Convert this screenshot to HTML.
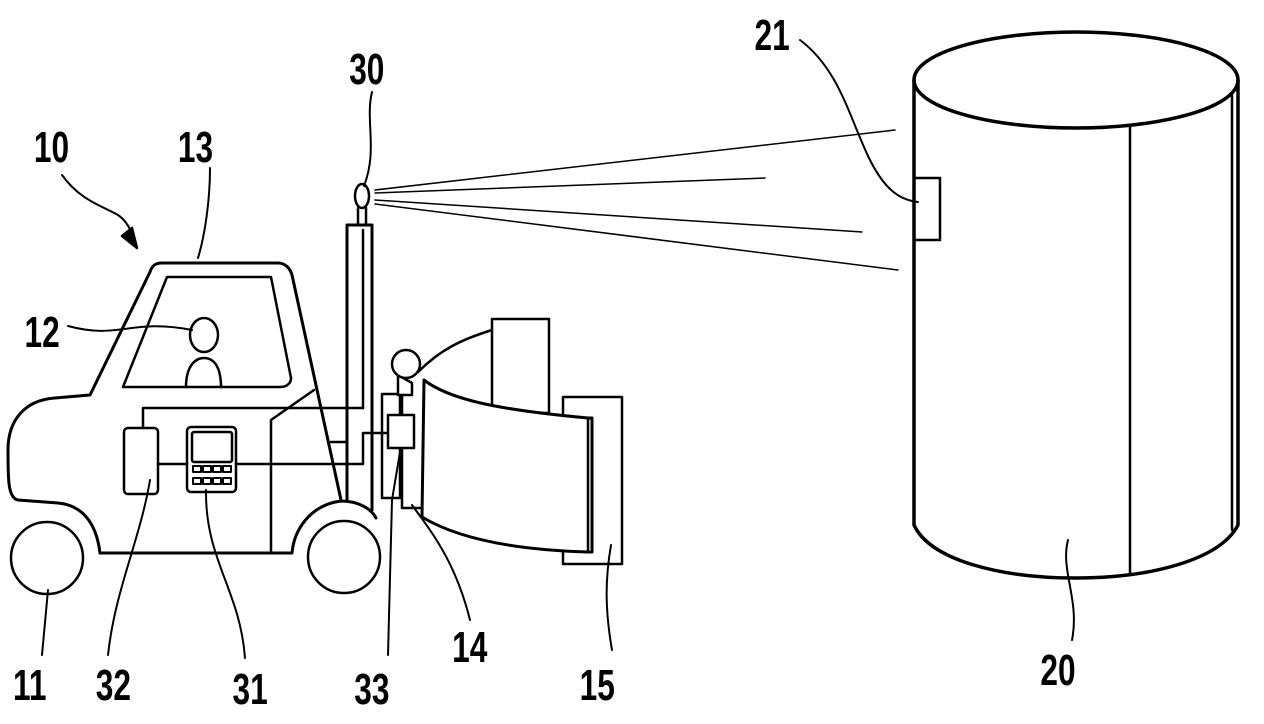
<!DOCTYPE html>
<html><head><style>
html,body{margin:0;padding:0;background:#fff;}
svg{display:block;}
text{font-family:"Liberation Sans",sans-serif;font-size:44px;font-weight:bold;fill:#000;}
</style></head><body>
<svg width="1264" height="724" viewBox="0 0 1264 724" xmlns="http://www.w3.org/2000/svg">
<g fill="none" stroke="#000" stroke-width="2.5" stroke-linejoin="round" stroke-linecap="round">
<path d="M62 175 C80 200 100 205 118 215 C128 222 132 232 135 244" stroke-width="2"/>
<path d="M122 236 L137 248 L132 228 Z" fill="#000"/>
<path d="M210 168 C210 200 205 235 198 258" stroke-width="2"/>
<path d="M68 326 C120 340 130 318 192 330" stroke-width="2"/>
<path d="M372 92 C365 120 378 150 364 186" stroke-width="2"/>
<path d="M800 40 C840 70 850 120 870 160 C885 190 900 200 918 202" stroke-width="2"/>
<path d="M42 655 L48 590" stroke-width="2"/>
<path d="M108 655 C115 590 140 540 150 480" stroke-width="2"/>
<path d="M245 658 C240 590 205 560 206 490" stroke-width="2"/>
<path d="M388 655 L392 500 L402 440" stroke-width="2"/>
<path d="M470 620 C455 560 430 530 412 505" stroke-width="2"/>
<path d="M612 650 C605 610 605 580 611 545" stroke-width="2"/>
<path d="M1072 640 C1080 600 1060 570 1068 540" stroke-width="2"/>
<path d="M100 553 C96 520 80 505 58 503 L18 500 C8 498 8 480 8 450 C8 420 25 400 55 398 L90 395 L150 272 C152 266 155 263 162 263 L278 263 C285 263 290 268 292 275 L341 500" stroke-width="3"/>
<path d="M100 553 L292 553 C294 530 310 505 341 501 C360 501 372 510 376 518" stroke-width="3"/>
<path d="M167 277 L271 277 L291 378 C291 384 286 387 280 387 L123 387 Z"/>
<ellipse cx="204" cy="335" rx="14" ry="17"/>
<path d="M186 387 C186 365 196 358 204 358 C214 358 221 367 221 387"/>
<path d="M143 427 L143 408 L363 408"/>
<path d="M271 553 L271 420 L314 390"/>
<rect x="124" y="428" width="34" height="66" rx="4"/>
<rect x="187" y="427" width="49" height="65" rx="4"/>
<rect x="192" y="432" width="40" height="30" rx="2"/>
<g stroke-width="2">
<rect x="193" y="466" width="8" height="6"/><rect x="203" y="466" width="8" height="6"/><rect x="213" y="466" width="8" height="6"/><rect x="223" y="466" width="8" height="6"/>
<rect x="193" y="478" width="8" height="6"/><rect x="203" y="478" width="8" height="6"/><rect x="213" y="478" width="8" height="6"/><rect x="223" y="478" width="8" height="6"/>
</g>
<path d="M158 464 L187 464 M236 464 L363 464 L363 433 L388 433"/>
<path d="M331 442 L347 442 L347 500"/>
<path d="M347 500 L347 225 L372 225 L372 510" stroke-width="3"/>
<path d="M363 408 L363 230"/>
<ellipse cx="362" cy="196" rx="7" ry="12"/>
<path d="M358 208 L358 225 M366 208 L366 225"/>
<path d="M375 190 L895 130 M375 193 L765 178 M375 200 L862 232 M375 204 L898 270" stroke-width="1.5"/>
<rect x="382" y="394" width="18" height="104"/>
<path d="M402 383 L402 508 L422 508"/>
<path d="M398 375 L398 395 L412 395 L412 383 Z" fill="#fff"/>
<circle cx="406" cy="364" r="14" fill="#fff"/>
<rect x="388" y="415" width="26" height="33" fill="#fff"/>
<path d="M418 372 C440 350 460 340 492 330"/>
<rect x="492" y="319" width="57" height="94"/>
<path d="M424 380 C450 400 500 410 588 418 L592 418 L592 552 L588 552 C520 550 460 540 422 517 L424 380 Z" fill="#fff" stroke-width="3"/>
<path d="M588 418 L588 552"/>
<path d="M563 413 L563 397 L622 397 L622 564 L563 564 L563 552"/>
<circle cx="47" cy="558" r="36"/>
<circle cx="344" cy="557" r="36"/>
<ellipse cx="1076" cy="80" rx="162" ry="48" stroke-width="3.5"/>
<path d="M914 80 L914 525 C930 560 1000 578 1076 578 C1150 578 1220 560 1238 525 L1238 80" stroke-width="3.5"/>
<path d="M1130 125 L1130 575 M1232 95 L1232 530"/>
<rect x="914" y="178" width="26" height="62"/>
</g>
<g transform="scale(0.72 1)">
<text x="47" y="162">10</text>
<text x="247" y="162">13</text>
<text x="34" y="347">12</text>
<text x="485" y="84">30</text>
<text x="1048" y="50">21</text>
<text x="18" y="700">11</text>
<text x="133" y="700">32</text>
<text x="323" y="704">31</text>
<text x="492" y="704">33</text>
<text x="628" y="662">14</text>
<text x="805" y="700">15</text>
<text x="1445" y="685">20</text>
</g>
</svg>
</body></html>
